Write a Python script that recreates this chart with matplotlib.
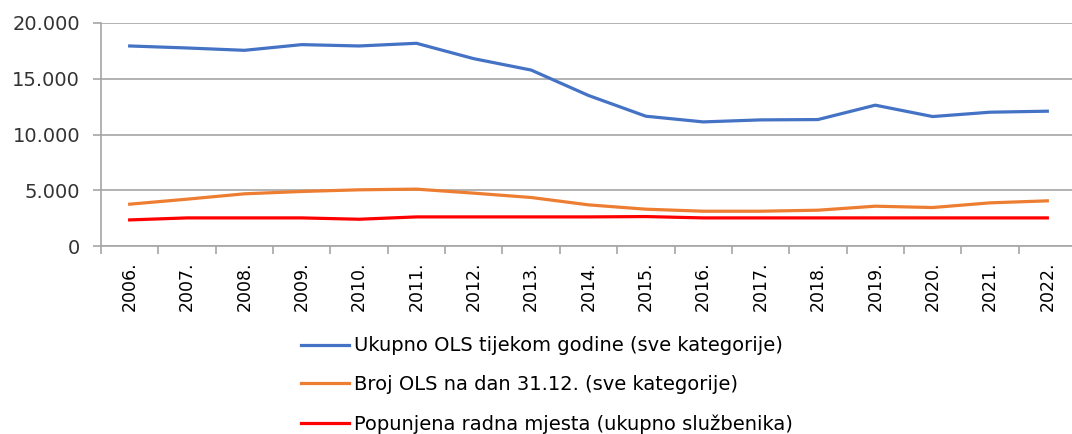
import numpy as np
import matplotlib.pyplot as plt
from matplotlib.ticker import FuncFormatter, FixedLocator

godine = ['2006.', '2007.', '2008.', '2009.', '2010.', '2011.', '2012.', '2013.', '2014.',
          '2015.', '2016.', '2017.', '2018.', '2019.', '2020.', '2021.', '2022.']
ukupno_ols = [17940, 17760, 17550, 18060, 17940, 18180, 16800, 15780, 13500,
              11640, 11130, 11310, 11340, 12630, 11610, 12000, 12090]
broj_ols = [3750, 4200, 4680, 4890, 5040, 5100, 4740, 4350, 3690,
            3300, 3120, 3120, 3210, 3570, 3450, 3870, 4050]
popunjena = [2340, 2520, 2520, 2520, 2400, 2610, 2610, 2610, 2610,
             2640, 2520, 2520, 2520, 2520, 2520, 2520, 2520]

oznake = ['Ukupno OLS tijekom godine (sve kategorije)',
          'Broj OLS na dan 31.12. (sve kategorije)',
          'Popunjena radna mjesta (ukupno službenika)']
boje = ['#4472C4', '#ED7D31', '#FF0000']

plt.rcParams['font.family'] = ['DejaVu Sans']
siva = '#333333'

fig = plt.figure(figsize=(10.72, 4.34), dpi=100)
ax = fig.add_axes([101 / 1072, 1 - 246 / 434, 975 / 1072, 223 / 434])

x = np.arange(len(godine))
for serija, boja, oznaka in zip([ukupno_ols, broj_ols, popunjena], boje, oznake):
    ax.plot(x, serija, color=boja, lw=2.3, label=oznaka, solid_joinstyle='round')

ax.set_xlim(-0.5, len(godine) - 0.5)
ax.set_ylim(0, 20000)
ax.set_yticks([0, 5000, 10000, 15000, 20000])
ax.yaxis.set_major_formatter(FuncFormatter(lambda v, p: f'{int(v):,}'.replace(',', '.')))
ax.grid(axis='y', color='#a6a6a6', lw=1.2)
ax.set_axisbelow(True)

ax.set_xticks(x)
ax.set_xticklabels(godine, rotation=90, fontsize=12.5, color='black')
ax.tick_params(axis='x', which='major', length=0, pad=11)
ax.xaxis.set_minor_locator(FixedLocator(np.arange(-0.5, len(godine), 1)))
ax.tick_params(axis='x', which='minor', length=6, color='#a6a6a6', width=1.2)
ax.tick_params(axis='y', length=6, color='#a6a6a6', width=1.2, labelsize=14, labelcolor=siva, pad=9)

for s in ['top', 'right']:
    ax.spines[s].set_visible(False)
for s in ['left', 'bottom']:
    ax.spines[s].set_color('#a6a6a6')
    ax.spines[s].set_linewidth(1.2)

fig.legend(loc='center left', bbox_to_anchor=(301 / 1072, 1 - 385 / 434),
           bbox_transform=fig.transFigure, frameon=False, fontsize=14,
           handlelength=2.45, handletextpad=0.3, labelspacing=1.02,
           borderpad=0, borderaxespad=0, labelcolor='black')

fig.savefig('out.png', dpi=100)
